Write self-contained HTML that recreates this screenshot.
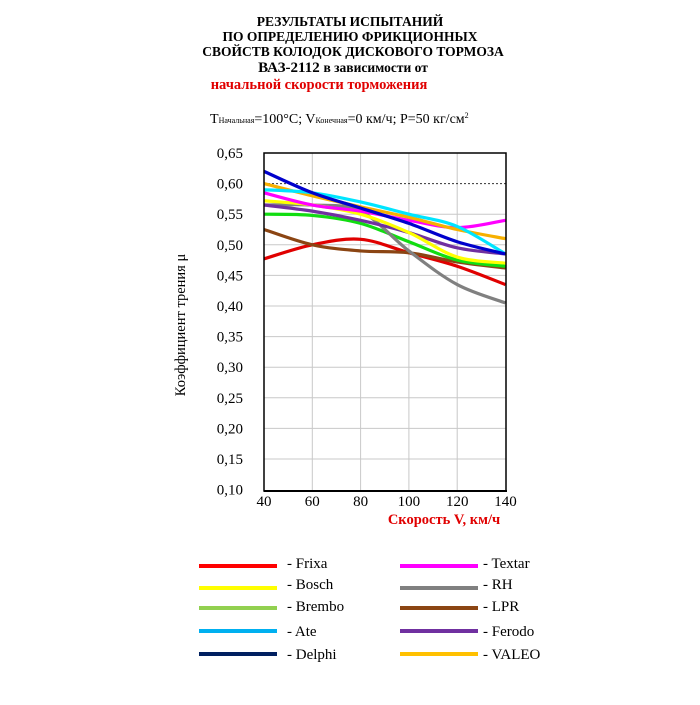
<!DOCTYPE html>
<html><head><meta charset="utf-8"><style>
body{margin:0;background:#fff;width:700px;height:700px;overflow:hidden}
svg{font-family:"Liberation Serif",serif}
</style></head><body>
<svg id="s" width="700" height="700" viewBox="0 0 700 700">
<g font-weight="bold" font-size="13.5" text-anchor="middle">
<text x="350" y="26">РЕЗУЛЬТАТЫ ИСПЫТАНИЙ</text>
<text x="350" y="41">ПО ОПРЕДЕЛЕНИЮ ФРИКЦИОННЫХ</text>
<text x="353" y="56">СВОЙСТВ КОЛОДОК ДИСКОВОГО ТОРМОЗА</text>
<text x="343" y="72" font-size="15">ВАЗ-2112 <tspan font-size="13.5">  в зависимости от</tspan></text>
<text x="319" y="89" font-size="14.5" fill="#e00000">начальной скорости торможения</text>
</g>
<text x="210" y="123" font-size="14">T<tspan font-size="8">Начальная</tspan>=100°C; V<tspan font-size="8">Конечная</tspan>=0 км/ч; P=50 кг/см<tspan font-size="8" dy="-5">2</tspan></text>
<g id="grid" stroke="#c8c8c8" stroke-width="1"></g>
<g id="curves" fill="none" stroke-width="3.2"></g>
<rect x="264" y="153" width="242" height="338" fill="none" stroke="#000" stroke-width="1.5"/>
<line x1="264" y1="491" x2="507" y2="491" stroke="#000" stroke-width="2"/>
<g id="lab" font-size="15"></g>
<text x="444" y="524" font-size="14.5" font-weight="bold" fill="#e00000" text-anchor="middle">Скорость V, км/ч</text>
<text transform="translate(185,325) rotate(-90)" font-size="14.5" text-anchor="middle">Коэффициент трения  μ</text>
<g id="leg" font-size="15"></g>
</svg>
<script>
var NS="http://www.w3.org/2000/svg";
function el(p,t,a,txt){var e=document.createElementNS(NS,t);for(var k in a)e.setAttribute(k,a[k]);if(txt)e.textContent=txt;document.getElementById(p).appendChild(e);return e;}
function X(v){return 264+(v-40)*2.415;}
function Y(m){return 153+(0.65-m)*612;}
for(var i=1;i<5;i++)el("grid","line",{x1:X(40+20*i),x2:X(40+20*i),y1:153,y2:491});
for(var m=0.15;m<0.65;m+=0.05){var yy=Y(m);el("grid","line",{x1:264,x2:506,y1:yy,y2:yy,"stroke-dasharray":Math.abs(m-0.6)<0.001?"2,2":"none",stroke:Math.abs(m-0.6)<0.001?"#333":"#c8c8c8"});}
for(var i=0;i<=11;i++){var m=0.10+i*0.05;el("lab","text",{x:243,y:Y(m)+5,"text-anchor":"end"},m.toFixed(2).replace(".",","));}
for(var i=0;i<=5;i++)el("lab","text",{x:X(40+20*i),y:506,"text-anchor":"middle"},String(40+20*i));
var S=[
["#e00000",[.477,.500,.509,.487,.465,.435]],
["#8B4513",[.525,.500,.490,.487,.472,.462]],
["#11dd11",[.550,.548,.535,.505,.475,.465]],
["#808080",[.565,.565,.555,.490,.435,.405]],
["#7030a0",[.565,.555,.540,.520,.495,.485]],
["#ffff00",[.572,.565,.550,.520,.480,.470]],
["#ff00ff",[.585,.565,.555,.540,.528,.540]],
["#f7b000",[.600,.580,.562,.545,.525,.510]],
["#00e5ff",[.590,.585,.570,.550,.530,.485]],
["#0000cc",[.620,.585,.560,.535,.505,.485]]];
S.forEach(function(s){var p=s[1].map(function(m,i){return[X(40+20*i),Y(m)];});
var d="M"+p[0];for(var i=0;i<p.length-1;i++){var a=p[i-1]||p[i],b=p[i],c=p[i+1],e=p[i+2]||c;
d+=" C"+(b[0]+(c[0]-a[0])/6)+","+(b[1]+(c[1]-a[1])/6)+" "+(c[0]-(e[0]-b[0])/6)+","+(c[1]-(e[1]-b[1])/6)+" "+c;}
el("curves","path",{d:d,stroke:s[0]});});
var L=[["#ff0000","Frixa","#ff00ff","Textar"],["#ffff00","Bosch","#808080","RH"],["#92d050","Brembo","#8B4513","LPR"],["#00b0f0","Ate","#7030a0","Ferodo"],["#002060","Delphi","#ffc000","VALEO"]];
var ly=[566,588,608,631,654],ty=[568,589,611,636,659];
L.forEach(function(r,i){el("leg","line",{x1:199,x2:277,y1:ly[i],y2:ly[i],stroke:r[0],"stroke-width":4});
el("leg","text",{x:287,y:ty[i]},"- "+r[1]);
el("leg","line",{x1:400,x2:478,y1:ly[i],y2:ly[i],stroke:r[2],"stroke-width":4});
el("leg","text",{x:483,y:ty[i]},"- "+r[3]);});
</script>
</body></html>
